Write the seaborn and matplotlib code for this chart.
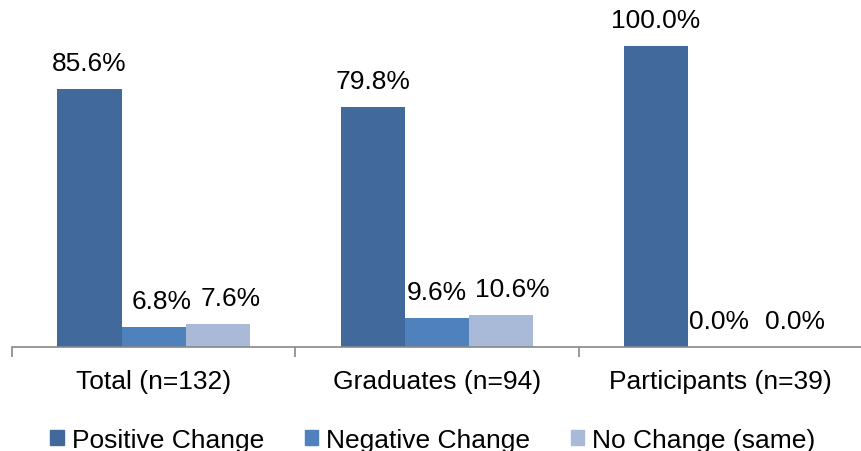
import matplotlib
matplotlib.use("Agg")
import matplotlib.pyplot as plt
import seaborn as sns
import pandas as pd

groups = ["Total (n=132)", "Graduates (n=94)", "Participants (n=39)"]
series = ["Positive Change", "Negative Change", "No Change (same)"]
positive = [85.6, 79.8, 100.0]
negative = [6.8, 9.6, 0.0]
no_change = [7.6, 10.6, 0.0]
colors = ["#41699C", "#4F81BD", "#A9B9D8"]

df = pd.DataFrame({
    "group": groups * 3,
    "series": [series[0]] * 3 + [series[1]] * 3 + [series[2]] * 3,
    "value": positive + negative + no_change,
})

sns.set_style("white")
plt.rcParams["font.family"] = ["Liberation Sans", "DejaVu Sans"]
plt.rcParams["text.color"] = "black"
plt.rcParams["xtick.color"] = "black"

fig = plt.figure(figsize=(8.62, 4.52), dpi=100)
ax = fig.add_axes([12 / 862, 104 / 452, 850 / 862, 348 / 452])

sns.barplot(data=df, x="group", y="value", hue="series", order=groups,
            hue_order=series, palette=colors, width=0.68, saturation=1,
            linewidth=0, ax=ax, legend=False)

# label nudges (pixels) so neighbouring labels don't collide, like the original
nudges = [[0, 0, 0], [8, 0, -1], [13, 11, 10]]
for c, nd in zip(ax.containers, nudges):
    anns = ax.bar_label(c, labels=[f"{v:.1f}%" for v in c.datavalues],
                        padding=10, fontsize=19, color="black")
    for a, dx in zip(anns, nd):
        a.xyann = (dx * 0.72, 10)

ax.set_xlim(-0.5, 2.5)
ax.set_ylim(0, 115.6)
ax.set_xlabel("")
ax.set_ylabel("")
ax.set_yticks([])
for s in ["top", "right", "left"]:
    ax.spines[s].set_visible(False)
ax.spines["bottom"].set_color("#888888")
ax.spines["bottom"].set_linewidth(1.2)
ax.set_xticks([-0.5, 0.5, 1.5, 2.5], minor=True)
ax.tick_params(axis="x", which="minor", bottom=True, length=7,
               color="#888888", width=1.2)
ax.tick_params(axis="x", which="major", length=0, labelsize=19, pad=16,
               labelcolor="black")

handles = [plt.Rectangle((0, 0), 1, 1, color=c) for c in colors]
fig.legend(handles, series, loc="lower center", bbox_to_anchor=(0.502, -0.055),
           ncol=3, frameon=False, fontsize=19, handlelength=0.5,
           handleheight=0.5, handletextpad=0.3, columnspacing=1.55)

fig.savefig("out.png", dpi=100)
